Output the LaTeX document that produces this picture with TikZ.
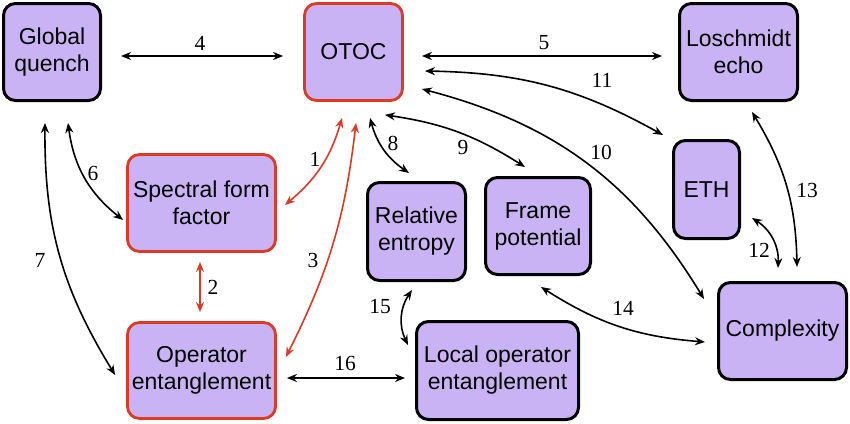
\documentclass[tikz,border=0pt]{standalone}
\usepackage{fontspec}
\setmainfont{Liberation Serif}
\newfontfamily\boxfont{Liberation Sans}
\usetikzlibrary{arrows.meta}
\definecolor{lav}{HTML}{C9B3F5}
\definecolor{redb}{HTML}{DC3A25}
\begin{document}
\begin{tikzpicture}[x=1pt,y=1pt,
  box/.style={draw=black, line width=3pt, fill=lav, rounded corners=12pt, align=center,
    font=\boxfont\fontsize{23}{27}\selectfont, inner sep=0pt},
  redbox/.style={box, draw=redb, line width=2.8pt},
  conn/.style={{Stealth[length=10pt,width=8pt]}-{Stealth[length=10pt,width=8pt]}, line width=1.6pt},
  redconn/.style={conn, draw=redb},
  lbl/.style={font=\fontsize{21.5}{21.5}\selectfont, inner sep=0pt}]
\useasboundingbox (0,0) rectangle (850,-423);
% boxes
\node[box, minimum width=97pt, minimum height=97pt] (gq) at (52,-52) {Global\\quench};
\node[redbox, minimum width=98pt, minimum height=97pt] (otoc) at (353.5,-52) {OTOC};
\node[box, minimum width=118pt, minimum height=97pt] (le) at (738.5,-52) {Loschmidt\\echo};
\node[redbox, minimum width=148pt, minimum height=97pt] (sff) at (201.5,-203) {Spectral form\\factor};
\node[box, minimum width=66pt, minimum height=98pt] (eth) at (706.5,-189.5) {ETH};
\node[box, minimum width=98pt, minimum height=98pt] (rel) at (416.5,-231.5) {Relative\\entropy};
\node[box, minimum width=105pt, minimum height=97pt] (fp) at (538,-226) {Frame\\potential};
\node[box, minimum width=128pt, minimum height=97pt] (cx) at (782.5,-331) {Complexity};
\node[redbox, minimum width=148pt, minimum height=96pt] (oe) at (201.5,-370.5) {Operator\\entanglement};
\node[box, minimum width=162pt, minimum height=98pt] (loe) at (497.5,-370.5) {Local operator\\entanglement};
% connectors
\draw[redconn] ([shift={(-11.5,-16)}]otoc.south) to[bend left=17] ([shift={(8,-2)}]sff.east);
\draw[redconn] ([shift={(-1.5,-9)}]sff.south) -- ([shift={(-1.5,9)}]oe.north);
\draw[redconn] ([shift={(2.5,-21)}]otoc.south) to[bend left=10] ([shift={(9,13.5)}]oe.east);
\draw[conn] ([shift={(19,-4)}]gq.east) -- ([shift={(-20,-4)}]otoc.west);
\draw[conn] ([shift={(18,-4)}]otoc.east) -- ([shift={(-16,-4)}]le.west);
\draw[conn] ([shift={(16,-21)}]gq.south) to[bend right=22] ([shift={(-3,-17)}]sff.west);
\draw[conn] ([shift={(-7,-21)}]gq.south) to[bend right=16] ([shift={(-11,-4.5)}]oe.west);
\draw[conn] ([shift={(16.5,-16)}]otoc.south) to[bend right=20] ([shift={(-7.5,8)}]rel.north);
\draw[conn] ([shift={(31.5,-13)}]otoc.south) to[bend left=12] ([shift={(-13,9)}]fp.north);
\draw[conn] ([shift={(18,-37)}]otoc.east) to[bend left=22] ([shift={(-13,32)}]cx.west);
\draw[conn] ([shift={(21,-19)}]otoc.east) to[bend left=14] ([shift={(-43.5,4)}]eth.north);
\draw[conn] ([shift={(11,-28.5)}]eth.east) to[bend left=30] ([shift={(-4.5,13)}]cx.north);
\draw[conn] ([shift={(13.5,-10)}]le.south) to[bend left=15] ([shift={(14.5,14)}]cx.north);
\draw[conn] ([shift={(3,-11)}]fp.south) to[bend right=14] ([shift={(-12,-11)}]cx.west);
\draw[conn] ([shift={(-4.5,-8)}]rel.south) to[bend right=30] ([shift={(-7,25.5)}]loe.west);
\draw[conn] ([shift={(10,-7.5)}]oe.east) -- ([shift={(-10,-7.5)}]loe.west);
% labels
\node[lbl] (l1) at (315,-159) {1};
\node[lbl] (l2) at (213,-287) {2};
\node[lbl] (l3) at (313,-260) {3};
\node[lbl] (l4) at (200,-43) {4};
\node[lbl] (l5) at (544,-43) {5};
\node[lbl] (l6) at (93,-173) {6};
\node[lbl] (l7) at (40,-260) {7};
\node[lbl] (l8) at (393,-143) {8};
\node[lbl] (l9) at (463,-147) {9};
\node[lbl] (l10) at (601,-152) {10};
\node[lbl] (l11) at (602,-80) {11};
\node[lbl] (l12) at (759,-250) {12};
\node[lbl] (l13) at (807,-190) {13};
\node[lbl] (l14) at (623,-308) {14};
\node[lbl] (l15) at (380,-307) {15};
\node[lbl] (l16) at (345,-363) {16};
\end{tikzpicture}
\end{document}
